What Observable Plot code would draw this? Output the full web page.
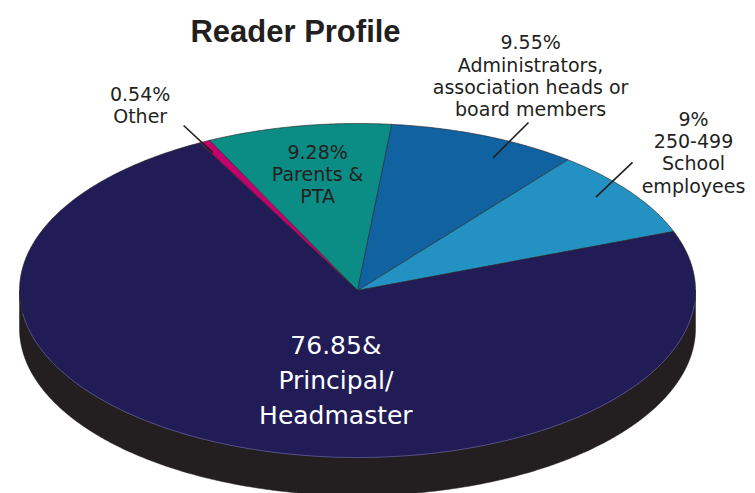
<!DOCTYPE html>
<html><head><meta charset="utf-8">
<script src="https://cdn.jsdelivr.net/npm/d3@7"></script>
<script src="https://cdn.jsdelivr.net/npm/@observablehq/plot@0.6"></script>
<style>html,body{margin:0;padding:0;background:#fff;}</style>
</head><body><div id="chart"></div>
<script>
// ---- data ----
const title = "Reader Profile";
const categories = ["Other", "Parents & PTA", "Administrators", "250-499 School employees", "Principal/Headmaster"];
const values = [0.54, 9.28, 9.55, 9, 76.85];
const percentLabels = ["0.54%", "9.28%", "9.55%", "9%", "76.85&"];
const nameLabels = ["Other", "Parents &\nPTA", "Administrators,\nassociation heads or\nboard members", "250-499\nSchool\nemployees", "Principal/\nHeadmaster"];
const colors = ["#c4006c", "#0b8c84", "#1063a0", "#2491c3", "#221c56"];

// ---- layout ----
const W = 755, H = 493;
const geo = {cx: 357, cy: 290, rx: 338, ry: 167, depth: 38, start: -27.8};
const labelPos = [{a: -30, r: 1.286}, {a: -9.6, r: 0.708}, {a: 21.7, r: 1.385}, {a: 50.2, r: 1.294}, {a: 187, r: 0.525}];
const leaderPos = [{a1: -27.4, r1: 0.93, a2: -27.5, r2: 1.114}, null, {a1: 26.8, r1: 0.89, a2: 26.7, r2: 1.126}, {a1: 51.6, r1: 0.9, a2: 46.7, r2: 1.118}, null];

const rad = d => d * Math.PI / 180;
const pt = (aRad, r, dy = 0) => ({x: geo.cx + geo.rx * r * Math.sin(aRad), y: geo.cy - geo.ry * r * Math.cos(aRad) + dy});

const arcs = d3.pie().sort(null).value(d => d).startAngle(rad(geo.start)).endAngle(rad(geo.start) + 2 * Math.PI)(values);

const slicePts = [];
arcs.forEach((a, i) => {
  const key = categories[i];
  slicePts.push({...pt(0, 0), key});
  const n = Math.max(2, Math.ceil((a.endAngle - a.startAngle) / rad(0.5)));
  for (let k = 0; k <= n; k++) {
    const t = a.startAngle + (a.endAngle - a.startAngle) * k / n;
    slicePts.push({...pt(t, 1), key});
  }
});

const sidePts = [];
for (let d = 90; d <= 270; d += 0.5) sidePts.push(pt(rad(d), 1));
for (let d = 270; d >= 90; d -= 0.5) sidePts.push(pt(rad(d), 1, geo.depth));
const rimPts = [];
for (let d = 95; d <= 262; d += 0.5) rimPts.push(pt(rad(d), 1));

const labels = categories.map((c, i) => {
  const p = pt(rad(labelPos[i].a), labelPos[i].r);
  return {key: c, x: p.x, y: p.y, text: percentLabels[i] + "\n" + nameLabels[i]};
});
const leaders = [];
leaderPos.forEach((l, i) => {
  if (!l) return;
  const p1 = pt(rad(l.a1), l.r1), p2 = pt(rad(l.a2), l.r2);
  leaders.push({x1: p1.x, y1: p1.y, x2: p2.x, y2: p2.y});
});
const main = labels.slice(0, 4);
const big = labels.slice(4);

const chart = Plot.plot({
  width: W, height: H, margin: 0,
  style: {background: "#fff"},
  x: {domain: [0, W], range: [0, W], axis: null},
  y: {domain: [0, H], range: [0, H], axis: null},
  color: {domain: categories, range: colors},
  marks: [
    Plot.line(sidePts, {x: "x", y: "y", fill: "#231f20", stroke: "#231f20", strokeWidth: 0.5, curve: "linear-closed"}),
    Plot.line(slicePts, {x: "x", y: "y", z: "key", fill: "key", stroke: "#231f20", strokeWidth: 0.6, curve: "linear-closed"}),
    Plot.line(rimPts, {x: "x", y: "y", stroke: "#5d58a0", strokeWidth: 0.8}),
    Plot.link(leaders, {x1: "x1", y1: "y1", x2: "x2", y2: "y2", stroke: "#231f20", strokeWidth: 1.6}),
    Plot.text(main, {x: "x", y: "y", text: "text", fontSize: 19, lineHeight: 1.17, fontFamily: "DejaVu Sans", fill: "#231f20", textAnchor: "middle", lineAnchor: "middle"}),
    Plot.text(big, {x: "x", y: "y", text: "text", fontSize: 25, lineHeight: 1.4, fontFamily: "DejaVu Sans", fill: "#ffffff", textAnchor: "middle", lineAnchor: "middle"}),
    Plot.text([title], {frameAnchor: "top-left", dx: 295, dy: 32, text: d => d, fontSize: 31, fontWeight: "bold", fontFamily: "Liberation Sans", fill: "#231f20", textAnchor: "middle", lineAnchor: "middle"})
  ]
});
document.getElementById("chart").appendChild(chart);
</script>
</body></html>
